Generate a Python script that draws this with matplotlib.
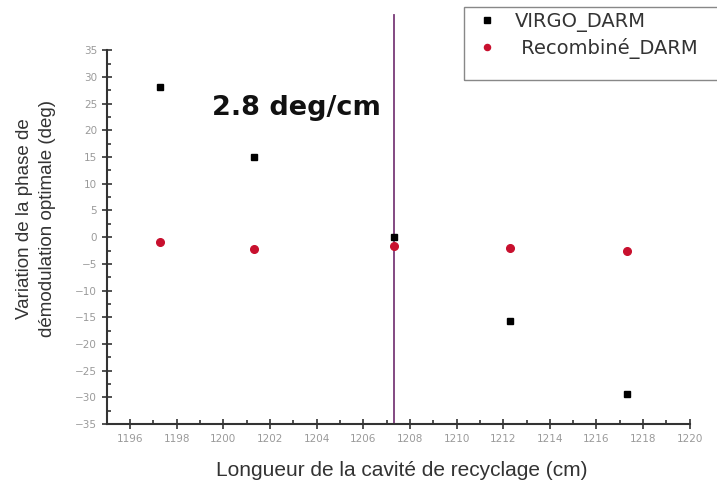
import matplotlib.pyplot as plt
from matplotlib.patches import Rectangle
from matplotlib.ticker import MultipleLocator

plt.rcParams['font.family'] = ['Liberation Sans', 'DejaVu Sans']

# data
cavity_cm = [1197.3, 1201.3, 1207.3, 1212.3, 1217.3]
virgo_darm = [28.1, 15.0, 0.0, -15.7, -29.4]
recomb_darm = [-1.0, -2.3, -1.7, -2.1, -2.6]
x_ref = 1207.3

fig = plt.figure(figsize=(7.17, 4.83), dpi=100)
ax = fig.add_axes([0.149, 0.122, 0.813, 0.774])

ax.plot(cavity_cm, virgo_darm, ls='none', marker='s', ms=5, color='black',
        label='VIRGO_DARM', zorder=3)
ax.plot(cavity_cm, recomb_darm, ls='none', marker='o', ms=5.5, color='#c8102e',
        label=' Recombiné_DARM', zorder=3)

ax.axvline(x_ref, ymin=0, ymax=1.094, color='#7a3a78', lw=1.3, clip_on=False, zorder=2)

ax.text(1199.5, 24.1, '2.8 deg/cm', fontsize=19.5, fontweight='bold', va='center', ha='left',
        family='DejaVu Sans', color='#111111')

ax.set_xlim(1195, 1220)
ax.set_ylim(-35, 35)
ax.set_xticks(range(1196, 1221, 2))
ax.xaxis.set_minor_locator(MultipleLocator(1))
ax.yaxis.set_major_locator(MultipleLocator(5))
ax.yaxis.set_minor_locator(MultipleLocator(2.5))

for s in ['top', 'right']:
    ax.spines[s].set_visible(False)
for s in ['left', 'bottom']:
    ax.spines[s].set_color('#333333')
    ax.spines[s].set_linewidth(1.5)

ax.tick_params(which='major', direction='inout', length=7, width=1.2, color='#333333',
               labelsize=7.5, labelcolor='#9a9a9a')
ax.tick_params(which='minor', direction='in', length=3, width=1.2, color='#333333')
for lab in ax.get_xticklabels() + ax.get_yticklabels():
    lab.set_family('DejaVu Sans')

ax.set_xlabel('Longueur de la cavité de recyclage (cm)', fontsize=15, color='#333333')
ax.xaxis.set_label_coords(0.506, -0.10)
ax.set_ylabel('Variation de la phase de\ndémodulation optimale (deg)', fontsize=13.5,
              color='#333333', linespacing=1.5)
ax.yaxis.set_label_coords(-0.087, 0.55)

# legend box (drawn separately so it can be taller than its entries)
fig.patches.append(Rectangle((464 / 717, 1 - 80 / 483), 0.40, 73 / 483,
                             transform=fig.transFigure, fill=False,
                             edgecolor='#888888', lw=1.0))
leg = ax.legend(loc='upper left', bbox_to_anchor=(477 / 717, 1 - 12 / 483),
                bbox_transform=fig.transFigure, frameon=False, borderaxespad=0,
                borderpad=0, prop={'family': 'DejaVu Sans', 'size': 14},
                handlelength=1.0, handletextpad=0.95, labelspacing=0.3,
                markerscale=0.8)
for t in leg.get_texts():
    t.set_color('#333333')

fig.savefig('out.png', dpi=100)
